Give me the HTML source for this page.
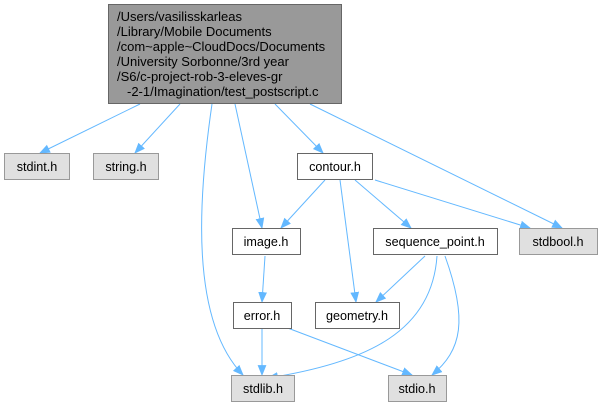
<!DOCTYPE html>
<html><head><meta charset="utf-8"><style>
body{margin:0;background:#fff;width:600px;height:406px;overflow:hidden}
text{font-family:"Liberation Sans",Helvetica,sans-serif;font-size:12.6px;fill:#000}
.r text{font-size:13px}
</style></head><body>
<svg width="600" height="406" viewBox="0 0 600 406" xmlns="http://www.w3.org/2000/svg">
<defs><marker id="a" viewBox="0 0 10 10" refX="9" refY="5" markerWidth="11" markerHeight="11" orient="auto" markerUnits="userSpaceOnUse"><path d="M0,1 L10,5 L0,9 z" fill="#63b8ff"/></marker></defs>
<g fill="none" stroke="#63b8ff" stroke-width="1" marker-end="url(#a)">
<path d="M140,104 L40,153"/>
<path d="M180,104 L135,153"/>
<path d="M212,104 C198,200 190,320 243,375"/>
<path d="M235,104 L262,228"/>
<path d="M275,104 L323,153"/>
<path d="M310,104 L562,228"/>
<path d="M325,180 L281,228"/>
<path d="M340,180 L356,302"/>
<path d="M355,180 L411,228"/>
<path d="M375,180 L530,228"/>
<path d="M265,256 L262,302"/>
<path d="M425,256 L376,302"/>
<path d="M437,256 C432,330 370,362 268,378"/>
<path d="M445,256 C468,320 462,350 432,375"/>
<path d="M262,327 L262,375"/>
<path d="M285,327 L412,375"/>
</g>
<rect x="108.5" y="4.5" width="233" height="99" fill="#999" stroke="#666"/>
<g class="r">
<text x="117" y="21">/Users/vasilisskarleas</text>
<text x="117" y="36">/Library/Mobile Documents</text>
<text x="117" y="51">/com~apple~CloudDocs/Documents</text>
<text x="117" y="66">/University Sorbonne/3rd year</text>
<text x="117" y="81">/S6/c-project-rob-3-eleves-gr</text>
<text x="127" y="96">-2-1/Imagination/test_postscript.c</text>
</g>
<g stroke-width="1">
<rect x="4.5" y="153.5" width="65" height="26" fill="#e0e0e0" stroke="#999"/>
<rect x="93.5" y="153.5" width="65" height="26" fill="#e0e0e0" stroke="#999"/>
<rect x="297.5" y="153.5" width="75" height="26" fill="#fff" stroke="#666"/>
<rect x="232.5" y="228.5" width="68" height="26" fill="#fff" stroke="#666"/>
<rect x="373.5" y="228.5" width="124" height="26" fill="#fff" stroke="#666"/>
<rect x="519.5" y="228.5" width="78" height="26" fill="#e0e0e0" stroke="#999"/>
<rect x="233.5" y="302.5" width="58" height="26" fill="#fff" stroke="#666"/>
<rect x="315.5" y="302.5" width="84" height="26" fill="#fff" stroke="#666"/>
<rect x="231.5" y="375.5" width="63" height="26" fill="#e0e0e0" stroke="#999"/>
<rect x="388.5" y="375.5" width="58" height="26" fill="#e0e0e0" stroke="#999"/>
</g>
<g text-anchor="middle">
<text x="37" y="171">stdint.h</text>
<text x="126" y="171">string.h</text>
<text x="335" y="171">contour.h</text>
<text x="266" y="246">image.h</text>
<text x="435" y="246">sequence_point.h</text>
<text x="558" y="246">stdbool.h</text>
<text x="262" y="320">error.h</text>
<text x="357" y="320">geometry.h</text>
<text x="263" y="393">stdlib.h</text>
<text x="417" y="393">stdio.h</text>
</g>
</svg>
</body></html>
